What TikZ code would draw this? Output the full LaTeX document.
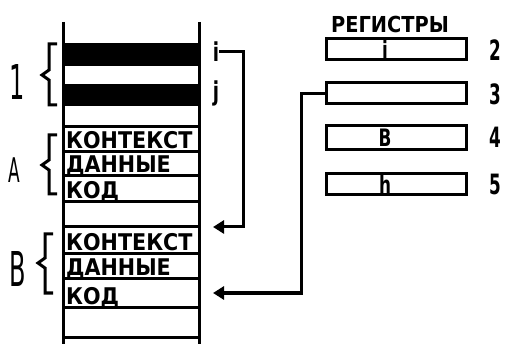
\documentclass[tikz,border=0pt]{standalone}
\usepackage{fontspec}
\setmainfont{DejaVu Sans}
\usetikzlibrary{arrows.meta}

\tikzset{
  wall/.style={line width=3pt},
  cell/.style={anchor=base west, inner sep=0pt, font=\bfseries\fontsize{23}{23}\selectfont, xscale=0.9, transform shape},
  reg/.style={draw, line width=3pt, minimum width=140pt, minimum height=21pt, inner sep=0pt},
  regtext/.style={inner sep=0pt, font=\bfseries\fontsize{24}{24}\selectfont, xscale=0.7, transform shape},
  bigname/.style={inner sep=0pt, font=\fontsize{48}{48}\selectfont, xscale=0.5, transform shape},
  regnum/.style={inner sep=0pt, font=\bfseries\fontsize{28}{28}\selectfont, xscale=0.6, transform shape},
  idx/.style={inner sep=0pt, font=\bfseries\fontsize{26}{26}\selectfont, xscale=0.7, transform shape},
  curly/.style={line width=3pt},
  ptr/.style={line width=3pt, -{Triangle[length=11pt,width=13pt]}}
}

\begin{document}
\begin{tikzpicture}[x=1pt,y=-1pt]
  \useasboundingbox (0,0) rectangle (508,344);

  % stack column
  \draw[wall] (63,22) -- (63,344) (199,22) -- (199,344);
  \fill (63,43) rectangle (199,66);
  \fill (63,84) rectangle (199,106);
  \foreach \y in {127,152,176,202,227,254,279,307,337}
    \draw[wall] (63,\y) -- (199,\y);

  \node[cell] (kontA) at (66,149) {КОНТЕКСТ};
  \node[cell] (dataA) at (66,173) {ДАННЫЕ};
  \node[cell] (kodA)  at (66,199) {КОД};
  \node[cell] (kontB) at (66,251) {КОНТЕКСТ};
  \node[cell] (dataB) at (66,276) {ДАННЫЕ};
  \node[cell] (kodB)  at (66,304) {КОД};

  % braces and block names
  \draw[curly] (57,44) -- (49,44) -- (49,70) -- (42,75) -- (49,80) -- (49,105) -- (57,105);
  \draw[curly] (57,135) -- (49,135) -- (49,160) -- (42,165) -- (49,170) -- (49,194) -- (57,194);
  \draw[curly] (53,234) -- (45,234) -- (45,258) -- (38,263) -- (45,268) -- (45,293) -- (53,293);
  \node[bigname] (one) at (17,82) {1};
  \node[bigname, font=\fontsize{34}{34}\selectfont] (nameA) at (14,170) {A};
  \node[bigname] (nameB) at (18,269) {B};

  % indices
  \node[idx] (li) at (216,52) {i};
  \node[idx] (lj) at (216,93) {j};

  % registers
  \node[font=\bfseries\fontsize{22}{22}\selectfont, xscale=0.88, transform shape] (title) at (390,24) {РЕГИСТРЫ};
  \node[reg] (reg2) at (396.5,49.5) {};
  \node[reg] (reg3) at (396.5,93.5) {};
  \node[reg, minimum height=24pt] (reg4) at (396.5,137.5) {};
  \node[reg] (reg5) at (396.5,184.5) {};
  \node[regtext] (v2) at (385,49.5) {i};
  \node[regtext] (v4) at (385,137.5) {B};
  \node[regtext] (v5) at (385,184.5) {h};
  \node[regnum] (n2) at (495,50) {2};
  \node[regnum] (n3) at (495,94) {3};
  \node[regnum] (n4) at (495,137) {4};
  \node[regnum] (n5) at (495,184) {5};

  % pointers
  \coordinate (railI) at (243,0);
  \coordinate (railR) at (301,0);
  \coordinate (blockB) at (213,227);
  \coordinate (kodBin) at (213,293);
  \draw[ptr] (li.east) -- (li.east -| railI) |- (blockB);
  \draw[ptr] (reg3.west) -- (reg3.west -| railR) |- (kodBin);
\end{tikzpicture}
\end{document}
